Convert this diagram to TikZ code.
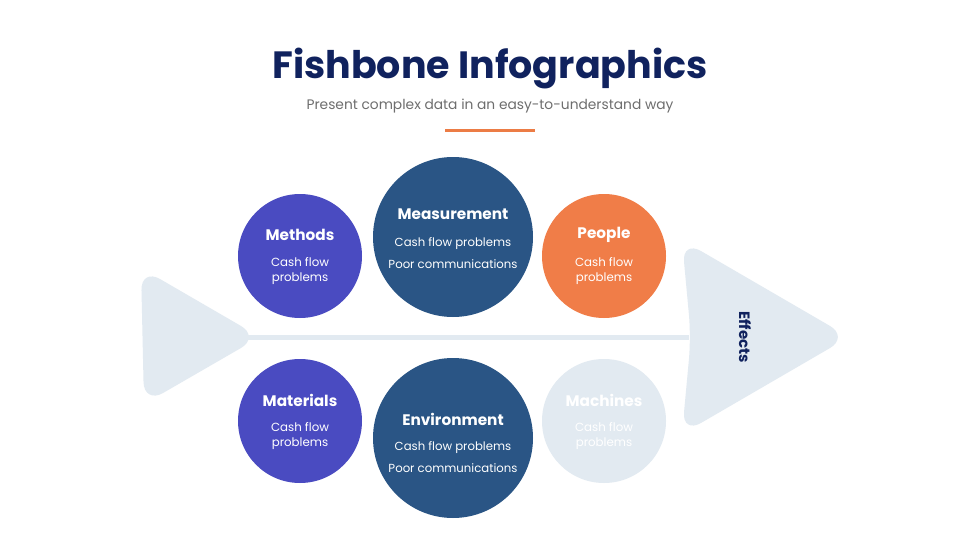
\documentclass[tikz,border=0pt]{standalone}
\usepackage{fontspec}
\setmainfont{Poppins}
\usetikzlibrary{positioning}
\definecolor{navy}{HTML}{10225E}
\definecolor{subgray}{HTML}{6E6E6E}
\definecolor{accent}{HTML}{EC7C45}
\definecolor{violetc}{HTML}{4A4BC1}
\definecolor{steelc}{HTML}{2A5585}
\definecolor{orangec}{HTML}{F07D48}
\definecolor{bonec}{HTML}{E2EAF1}
\tikzset{basic/.style={circle,inner sep=0pt}}
\tikzset{smallc/.style={basic,minimum size=124pt}}
\tikzset{bigc/.style={basic,minimum size=160pt}}
\tikzset{ctitle/.style={text=white,font=\fontsize{15.3}{18}\selectfont\bfseries}}
\tikzset{sbody/.style={text=white,align=center,font=\fontsize{11.8}{15}\selectfont}}
\tikzset{bbody/.style={text=white,align=center,font=\fontsize{11.7}{21.5}\selectfont}}
\tikzset{bone/.style={fill=bonec,draw=none,rounded corners=22pt}}

\begin{document}
\begin{tikzpicture}[x=1pt,y=-1pt]
    \useasboundingbox[fill=white] (0,0) rectangle (980,551);
    % Heading
    \node[font=\fontsize{38}{44}\selectfont\bfseries,text=navy] (title) at (490,69) {Fishbone Infographics};
    \node[font=\fontsize{13.8}{16}\selectfont,text=subgray,below=2pt of title] (subtitle) {Present complex data in an easy-to-understand way};
    \node[fill=accent,minimum width=90pt,minimum height=3pt,inner sep=0pt,below=13pt of subtitle] (rule) {};

    % Bones
    \fill[bone] (141,268) -- (260,337) -- (144,404) -- cycle;
    \fill[bone] (682,240) -- (849,337) -- (682,434) -- (691,337) -- cycle;
    \coordinate (tailtip) at (245,337);
    \coordinate (headback) at (689,337);
    \draw[bonec,line width=5pt] (tailtip) -- (headback);

    \foreach \cx/\cy/\col/\nm/\ttl in {300/256/violetc/methods/Methods,
                                       604/256/orangec/people/People,
                                       300/421/violetc/materials/Materials,
                                       604/421/bonec/machines/Machines}{%
          \node[smallc,fill=\col] (\nm) at (\cx,\cy) {};
          \node[ctitle] (\nm-t) at (\cx,\cy-21) {\ttl};
          \node[sbody] (\nm-b) at (\cx,\cy+15) {Cash flow\\problems};
        }
    \foreach \cy/\ty/\by/\nm/\ttl in {237/214/253/measurement/Measurement,
                                      438/419/457/environment/Environment}{%
          \node[bigc,fill=steelc] (\nm) at (453,\cy) {};
          \node[ctitle] (\nm-t) at (453,\ty) {\ttl};
          \node[bbody] (\nm-b) at (453,\by) {Cash flow problems\\Poor communications};
        }

    % Labels
    \node[rotate=-90,font=\fontsize{15}{17}\selectfont\bfseries,text=navy] (effects) at (745,337) {Effects};
\end{tikzpicture}
\end{document}
